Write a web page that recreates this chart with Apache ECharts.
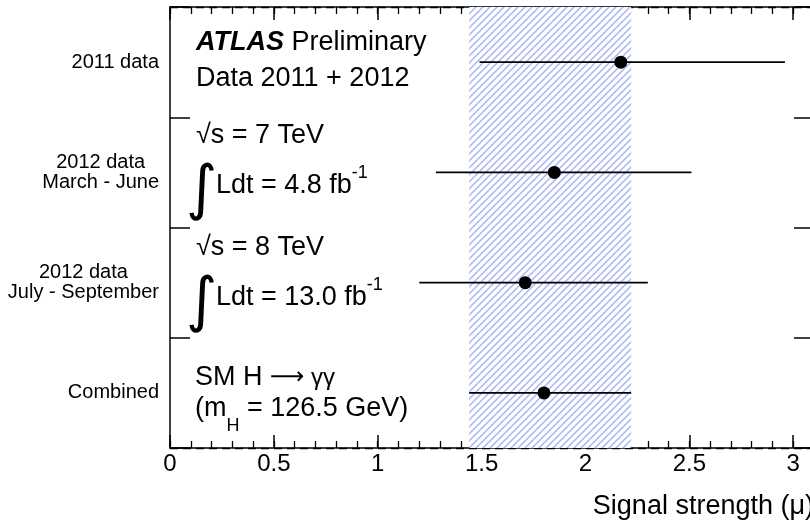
<!DOCTYPE html>
<html>
<head>
<meta charset="utf-8">
<script src="https://cdn.jsdelivr.net/npm/echarts@6/dist/echarts.min.js"></script>
<style>
  html, body { margin: 0; padding: 0; background: #fff; }
  #chart { width: 810px; height: 526px; }
</style>
</head>
<body>
<div id="chart"></div>
<script>
// Signal strength per data-taking period (H -> gamma gamma)
const categories = ['2011 data', '2012 data\nMarch - June', '2012 data\nJuly - September', 'Combined'];
const muValue = [2.17, 1.85, 1.71, 1.80];
const muLow   = [1.49, 1.28, 1.20, 1.44];
const muHigh  = [2.96, 2.51, 2.30, 2.22];
const xTicks  = [0, 0.5, 1, 1.5, 2, 2.5, 3];

const FONT = '"Liberation Sans", Arial, Helvetica, sans-serif';
const combinedIdx = categories.indexOf('Combined');

// diagonal hatch used for the combined uncertainty band
function hatchPattern() {
  const s = 7;
  const c = document.createElement('canvas');
  c.width = s; c.height = s;
  const g = c.getContext('2d');
  g.fillStyle = '#ffffff';
  g.fillRect(0, 0, s, s);
  g.strokeStyle = '#a9b5f3';
  g.lineWidth = 1.5;
  g.beginPath();
  g.moveTo(0, s); g.lineTo(s, 0);
  g.moveTo(-1, 1); g.lineTo(1, -1);
  g.moveTo(s - 1, s + 1); g.lineTo(s + 1, s - 1);
  g.stroke();
  return { image: c, repeat: 'repeat' };
}

const errorData = categories.map((c, i) => [i, muLow[i], muHigh[i]]);
const pointData = categories.map((c, i) => [muValue[i], i]);

const chart = echarts.init(document.getElementById('chart'), null, { renderer: 'canvas' });

const gridBox = { left: 170, top: 7, right: -4, bottom: 78, containLabel: false, outerBoundsMode: 'none' };

function txt(x, y, text, rich, extra) {
  return {
    type: 'text', x: x, y: y, z: 50,
    style: Object.assign({
      text: text, fontSize: 27, fontFamily: FONT, fill: '#000',
      verticalAlign: 'middle', align: 'left', rich: rich || {}
    }, extra || {})
  };
}

const base = { fontSize: 27, fontFamily: FONT, color: '#000', fill: '#000' };
const supRich = {
  m: Object.assign({}, base, { lineHeight: 44 }),
  s: Object.assign({}, base, { fontSize: 18, lineHeight: 18, verticalAlign: 'top' })
};
const subRich = {
  m: Object.assign({}, base, { lineHeight: 52 }),
  h: Object.assign({}, base, { fontSize: 18, lineHeight: 18, verticalAlign: 'bottom' })
};
const decayRich = {
  m: Object.assign({}, base, { lineHeight: 30 }),
  a: Object.assign({}, base, { fontFamily: '"DejaVu Sans", ' + FONT, fontSize: 24, lineHeight: 30 }),
  g: Object.assign({}, base, { fontSize: 24, lineHeight: 30 })
};
const integralStyle = { fontSize: 60, fontFamily: '"DejaVu Sans", ' + FONT };

const option = {
  animation: false,
  backgroundColor: '#fff',
  grid: [
    Object.assign({}, gridBox),
    Object.assign({}, gridBox)
  ],
  xAxis: [
    {
      type: 'value', gridIndex: 0, position: 'bottom',
      min: 0, max: 3.1, interval: 0.5,
      axisLine: { show: true, onZero: false, lineStyle: { color: '#000', width: 1.5 } },
      axisTick: { show: true, inside: true, length: 13, lineStyle: { color: '#000', width: 1.5 } },
      axisLabel: {
        show: true, margin: 4, color: '#000', fontSize: 24, fontFamily: FONT,
        showMaxLabel: false,
        formatter: v => (xTicks.some(t => Math.abs(t - v) < 1e-6) ? String(v) : '')
      },
      splitLine: { show: false },
      name: 'Signal strength (\u03bc)',
      nameLocation: 'end',
      nameGap: 0,
      nameTextStyle: {
        color: '#000', fontSize: 27, fontFamily: FONT,
        align: 'right', verticalAlign: 'top', padding: [45, 0, 0, 0]
      }
    },
    {
      type: 'value', gridIndex: 0, position: 'top',
      min: 0, max: 3.1, interval: 0.5,
      axisLine: { show: true, onZero: false, lineStyle: { color: '#000', width: 1.5 } },
      axisTick: { show: true, inside: true, length: 13, lineStyle: { color: '#000', width: 1.5 } },
      axisLabel: { show: false },
      splitLine: { show: false }
    },
    {
      type: 'value', gridIndex: 1, position: 'bottom',
      min: 0, max: 3.1, interval: 0.1,
      axisLine: { show: false },
      axisTick: { show: true, inside: true, length: 7, lineStyle: { color: '#000', width: 1.3 } },
      axisLabel: { show: false },
      splitLine: { show: false }
    },
    {
      type: 'value', gridIndex: 1, position: 'top',
      min: 0, max: 3.1, interval: 0.1,
      axisLine: { show: false },
      axisTick: { show: true, inside: true, length: 7, lineStyle: { color: '#000', width: 1.3 } },
      axisLabel: { show: false },
      splitLine: { show: false }
    }
  ],
  yAxis: [
    {
      type: 'category', gridIndex: 0, position: 'left', inverse: true,
      data: categories,
      axisLine: { show: true, onZero: false, lineStyle: { color: '#000', width: 1.5 } },
      axisTick: { show: true, inside: true, length: 20, lineStyle: { color: '#000', width: 1.5 } },
      axisLabel: {
        show: true, margin: 11, color: '#000', fontSize: 20, fontFamily: FONT, lineHeight: 20,
        formatter: v => v.split('\n').map(s => '{c|' + s + '}').join('\n'),
        rich: { c: { align: 'center', fontSize: 20, fontFamily: FONT, color: '#000', lineHeight: 20 } }
      },
      splitLine: {
        show: true,
        interval: idx => idx === combinedIdx,
        lineStyle: { color: '#000', width: 1.3, type: [8, 5] }
      }
    },
    {
      type: 'category', gridIndex: 0, position: 'right', inverse: true,
      data: categories,
      axisLine: { show: true, onZero: false, lineStyle: { color: '#000', width: 1.5 } },
      axisTick: { show: true, inside: true, length: 20, lineStyle: { color: '#000', width: 1.5 } },
      axisLabel: { show: false },
      splitLine: { show: false }
    },
    { type: 'value', gridIndex: 1, show: false, min: 0, max: 1 }
  ],
  series: [
    {
      // combined uncertainty band
      type: 'custom', xAxisIndex: 0, yAxisIndex: 0, z: -1,
      data: [],
      renderItem: () => null,
      markArea: {
        silent: true,
        itemStyle: { color: hatchPattern(), borderWidth: 0 },
        data: [[{ xAxis: muLow[combinedIdx] }, { xAxis: muHigh[combinedIdx] }]]
      }
    },
    {
      type: 'custom', xAxisIndex: 0, yAxisIndex: 0, z: 5,
      data: errorData,
      encode: { x: [1, 2], y: 0 },
      renderItem: (params, api) => {
        const c = api.value(0);
        const a = api.coord([api.value(1), c]);
        const b = api.coord([api.value(2), c]);
        return {
          type: 'line',
          shape: { x1: a[0], y1: a[1], x2: b[0], y2: b[1] },
          style: { stroke: '#000', lineWidth: 1.6 }
        };
      }
    },
    {
      type: 'scatter', xAxisIndex: 0, yAxisIndex: 0, z: 6,
      data: pointData,
      symbol: 'circle', symbolSize: 13,
      itemStyle: { color: '#000', opacity: 1 }
    }
  ],
  graphic: [
    txt(196, 43, '{b|ATLAS} Preliminary', {
      b: Object.assign({}, base, { fontWeight: 'bold', fontStyle: 'italic' })
    }),
    txt(196, 79, 'Data 2011 + 2012'),
    txt(196, 136, '\u221as = 7 TeV'),
    txt(186, 192, '\u222b', {}, integralStyle),
    txt(216, 186, '{m|Ldt = 4.8 fb}{s|-1}', supRich),
    txt(196, 248, '\u221as = 8 TeV'),
    txt(186, 304, '\u222b', {}, integralStyle),
    txt(216, 298, '{m|Ldt = 13.0 fb}{s|-1}', supRich),
    txt(195, 378, '{m|SM H }{a|\u27f6}{g| \u03b3\u03b3}', decayRich),
    txt(195, 409, '{m|(m}{h|H}{m| = 126.5 GeV)}', subRich)
  ]
};

chart.setOption(option);
</script>
</body>
</html>
